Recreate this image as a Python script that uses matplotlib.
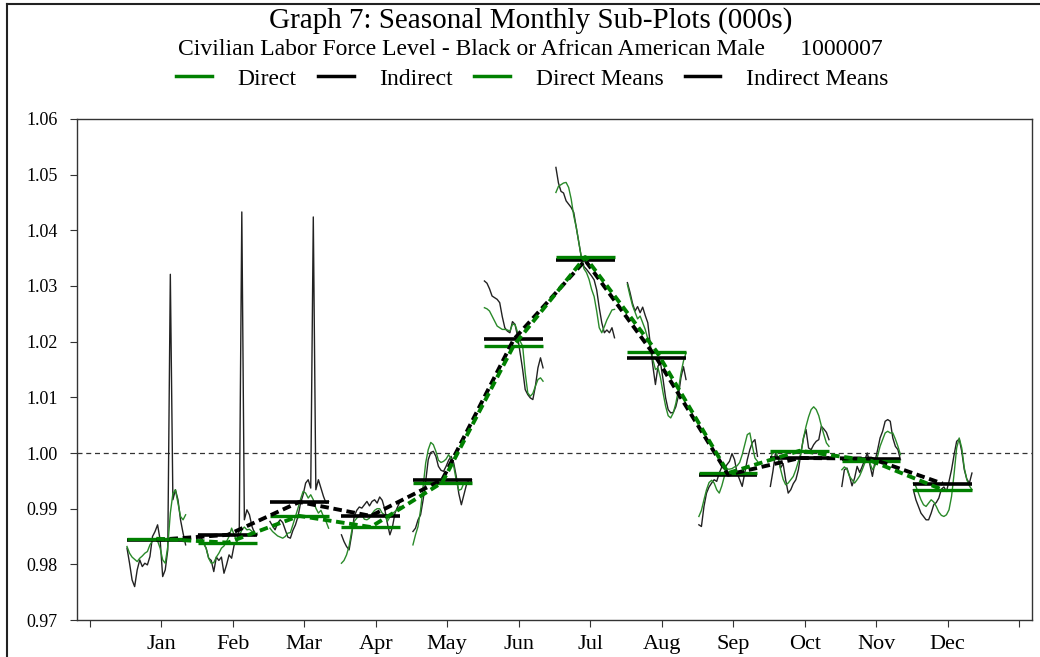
import numpy as np
import matplotlib
matplotlib.use("Agg")
import matplotlib.pyplot as plt
from matplotlib.lines import Line2D

plt.rcParams['font.family'] = ['Liberation Serif', 'DejaVu Serif']

months = ['Jan', 'Feb', 'Mar', 'Apr', 'May', 'Jun', 'Jul', 'Aug', 'Sep', 'Oct', 'Nov', 'Dec']

# seasonal factors per month, direct = green, indirect = black
direct = {
    'Jan': [0.9832, 0.9820, 0.9813, 0.9809, 0.9805, 0.9811, 0.9815, 0.9820, 0.9823, 0.9835, 0.9842, 0.9844,
            0.9842, 0.9829, 0.9808, 0.9802, 0.9832, 0.9892, 0.9927, 0.9934, 0.9910, 0.9886, 0.9880, 0.9889],
    'Feb': [0.9850, 0.9844, 0.9838, 0.9829, 0.9811, 0.9802, 0.9803, 0.9813, 0.9820, 0.9829, 0.9833, 0.9841,
            0.9850, 0.9865, 0.9853, 0.9841, 0.9850, 0.9862, 0.9867, 0.9862, 0.9863, 0.9859, 0.9851, 0.9856],
    'Mar': [0.9865, 0.9859, 0.9855, 0.9851, 0.9849, 0.9847, 0.9850, 0.9856, 0.9857, 0.9871, 0.9886, 0.9901,
            0.9917, 0.9931, 0.9928, 0.9919, 0.9925, 0.9916, 0.9901, 0.9892, 0.9897, 0.9886, 0.9877, 0.9865],
    'Apr': [0.9802, 0.9807, 0.9817, 0.9833, 0.9859, 0.9877, 0.9883, 0.9887, 0.9889, 0.9881, 0.9880, 0.9883,
            0.9891, 0.9897, 0.9900, 0.9900, 0.9892, 0.9889, 0.9877, 0.9885, 0.9891, 0.9895, 0.9899, 0.9904],
    'May': [0.9835, 0.9853, 0.9868, 0.9898, 0.9940, 0.9982, 1.0006, 1.0019, 1.0015, 1.0003, 0.9987, 0.9983,
            0.9985, 0.9989, 0.9997, 0.9989, 0.9976, 0.9951, 0.9933, 0.9935, 0.9946, 0.9947, 0.9946, 0.9949],
    'Jun': [1.0261, 1.0259, 1.0255, 1.0246, 1.0237, 1.0228, 1.0225, 1.0222, 1.0222, 1.0221, 1.0219, 1.0231,
            1.0231, 1.0217, 1.0201, 1.0192, 1.0144, 1.0108, 1.0102, 1.0107, 1.0120, 1.0132, 1.0135, 1.0129],
    'Jul': [1.0468, 1.0479, 1.0482, 1.0485, 1.0486, 1.0477, 1.0456, 1.0426, 1.0405, 1.0378, 1.0351, 1.0331,
            1.0324, 1.0312, 1.0294, 1.0281, 1.0255, 1.0225, 1.0216, 1.0227, 1.0239, 1.0248, 1.0257, 1.0258],
    'Aug': [1.0303, 1.0283, 1.0265, 1.0253, 1.0241, 1.0246, 1.0234, 1.0222, 1.0205, 1.0189, 1.0168, 1.0150,
            1.0153, 1.0135, 1.0108, 1.0084, 1.0067, 1.0063, 1.0072, 1.0089, 1.0113, 1.0143, 1.0165, 1.0180],
    'Sep': [0.9886, 0.9897, 0.9916, 0.9934, 0.9947, 0.9951, 0.9946, 0.9934, 0.9928, 0.9941, 0.9958, 0.9971,
            0.9971, 0.9972, 0.9975, 0.9977, 0.9983, 0.9997, 1.0015, 1.0033, 1.0036, 1.0012, 0.9991, 0.9985],
    'Oct': [0.9988, 1.0003, 1.0003, 0.9993, 0.9971, 0.9953, 0.9943, 0.9946, 0.9952, 0.9958, 0.9970, 0.9985,
            1.0000, 1.0027, 1.0048, 1.0065, 1.0078, 1.0083, 1.0078, 1.0067, 1.0049, 1.0033, 1.0018, 1.0012],
    'Nov': [0.9970, 0.9975, 0.9971, 0.9958, 0.9952, 0.9946, 0.9952, 0.9959, 0.9970, 0.9982, 0.9988, 0.9982,
            0.9970, 0.9977, 0.9994, 1.0012, 1.0024, 1.0036, 1.0039, 1.0036, 1.0036, 1.0025, 1.0012, 0.9997],
    'Dec': [0.9946, 0.9940, 0.9928, 0.9916, 0.9907, 0.9904, 0.9910, 0.9916, 0.9912, 0.9904, 0.9894, 0.9888,
            0.9886, 0.9889, 0.9898, 0.9922, 0.9963, 1.0009, 1.0027, 1.0009, 0.9973, 0.9952, 0.9941, 0.9934],
}

indirect = {
    'Jan': [0.9829, 0.9802, 0.9772, 0.9760, 0.9790, 0.9808, 0.9796, 0.9802, 0.9799, 0.9814, 0.9850, 0.9859,
            0.9871, 0.9844, 0.9778, 0.9790, 0.9826, 1.0321, 0.9916, 0.9934, 0.9916, 0.9880, 0.9856, 0.9835],
    'Feb': [0.9853, 0.9850, 0.9838, 0.9829, 0.9811, 0.9807, 0.9787, 0.9813, 0.9807, 0.9813, 0.9784, 0.9799,
            0.9817, 0.9811, 0.9835, 0.9839, 0.9862, 1.0433, 0.9880, 0.9898, 0.9889, 0.9868, 0.9856, 0.9853],
    'Mar': [0.9877, 0.9869, 0.9862, 0.9874, 0.9880, 0.9875, 0.9862, 0.9849, 0.9847, 0.9861, 0.9871, 0.9886,
            0.9910, 0.9925, 0.9946, 0.9952, 0.9937, 1.0424, 0.9934, 0.9952, 0.9937, 0.9922, 0.9910, 0.9913],
    'Apr': [0.9853, 0.9841, 0.9832, 0.9826, 0.9853, 0.9886, 0.9897, 0.9903, 0.9901, 0.9907, 0.9913, 0.9905,
            0.9913, 0.9916, 0.9910, 0.9921, 0.9915, 0.9899, 0.9874, 0.9853, 0.9867, 0.9892, 0.9903, 0.9913],
    'May': [0.9859, 0.9865, 0.9880, 0.9889, 0.9916, 0.9949, 0.9988, 1.0001, 1.0003, 0.9994, 0.9976, 0.9969,
            0.9967, 0.9976, 0.9987, 0.9994, 0.9982, 0.9958, 0.9927, 0.9907, 0.9925, 0.9943, 0.9952, 0.9952],
    'Jun': [1.0309, 1.0305, 1.0295, 1.0282, 1.0279, 1.0276, 1.0270, 1.0245, 1.0225, 1.0219, 1.0216, 1.0236,
            1.0231, 1.0210, 1.0180, 1.0150, 1.0114, 1.0105, 1.0099, 1.0096, 1.0120, 1.0153, 1.0171, 1.0153],
    'Jul': [1.0513, 1.0485, 1.0470, 1.0467, 1.0453, 1.0447, 1.0441, 1.0432, 1.0405, 1.0378, 1.0351, 1.0335,
            1.0330, 1.0324, 1.0318, 1.0311, 1.0293, 1.0261, 1.0234, 1.0216, 1.0221, 1.0216, 1.0225, 1.0207],
    'Aug': [1.0306, 1.0289, 1.0269, 1.0255, 1.0263, 1.0252, 1.0262, 1.0247, 1.0234, 1.0195, 1.0156, 1.0123,
            1.0156, 1.0162, 1.0132, 1.0099, 1.0078, 1.0072, 1.0073, 1.0083, 1.0102, 1.0135, 1.0155, 1.0132],
    'Sep': [0.9871, 0.9868, 0.9904, 0.9928, 0.9939, 0.9946, 0.9952, 0.9949, 0.9964, 0.9975, 0.9971, 0.9979,
            0.9985, 0.9999, 0.9988, 0.9964, 0.9952, 0.9940, 0.9964, 0.9988, 1.0006, 1.0019, 1.0024, 0.9994],
    'Oct': [0.9940, 0.9967, 1.0000, 0.9991, 0.9973, 0.9981, 0.9952, 0.9928, 0.9934, 0.9945, 0.9952, 0.9970,
            1.0000, 1.0027, 1.0042, 1.0009, 1.0006, 1.0015, 1.0021, 1.0024, 1.0048, 1.0043, 1.0037, 1.0024],
    'Nov': [0.9940, 0.9970, 0.9973, 0.9959, 0.9941, 0.9955, 0.9976, 0.9965, 0.9976, 0.9988, 1.0000, 0.9979,
            0.9958, 0.9985, 1.0005, 1.0027, 1.0039, 1.0057, 1.0060, 1.0057, 1.0027, 1.0012, 1.0006, 0.9988],
    'Dec': [0.9934, 0.9916, 0.9904, 0.9892, 0.9886, 0.9880, 0.9880, 0.9892, 0.9907, 0.9911, 0.9919, 0.9935,
            0.9939, 0.9931, 0.9949, 0.9970, 0.9997, 1.0021, 1.0025, 1.0003, 0.9970, 0.9953, 0.9946, 0.9964],
}

direct_means = [0.9846, 0.9839, 0.9887, 0.9867, 0.9947, 1.0193, 1.0352, 1.0182, 0.9964, 1.0004, 0.9986, 0.9934]
indirect_means = [0.9844, 0.9853, 0.9912, 0.9887, 0.9952, 1.0204, 1.0346, 1.0170, 0.9961, 0.9991, 0.9990, 0.9945]

green = '#008000'

fig = plt.figure(figsize=(10.4, 6.57), dpi=100)
ax = fig.add_axes([0.074, 0.0563, 0.9183, 0.7626])

lo, hi = -0.48, 0.34
centers = []
for i, m in enumerate(months):
    pos = i + 1
    xd = np.linspace(pos + lo, pos + hi, len(direct[m]))
    xi = np.linspace(pos + lo, pos + hi, len(indirect[m]))
    ax.plot(xi, indirect[m], color='#222222', lw=1.0, zorder=2)
    ax.plot(xd, direct[m], color='#2a8a2a', lw=1.0, zorder=2)
    ax.hlines(indirect_means[i], pos + lo, pos + hi, color='black', lw=2.6, zorder=3)
    ax.hlines(direct_means[i], pos + lo, pos + hi, color=green, lw=2.4, zorder=3)
    centers.append(pos + (lo + hi) / 2)

ax.plot(centers, indirect_means, color='black', lw=2.8, dashes=(2.2, 1.2), zorder=4)
ax.plot(centers, direct_means, color=green, lw=2.8, dashes=(2.2, 1.2), zorder=4)

ax.axhline(1.0, color='#333333', lw=0.9, ls=(0, (4, 3)), zorder=1)

ax.set_xlim(-0.18, 13.18)
ax.set_ylim(0.97, 1.06)
yt = np.arange(0.97, 1.0601, 0.01)
ax.set_yticks(yt)
ax.set_yticklabels([f'{v:.2f}' for v in yt], fontsize=13)
ax.set_xticks(range(0, 14))
ax.set_xticklabels([''] + months + [''], fontsize=16)
ax.tick_params(axis='both', direction='out', length=5, width=0.8, color='#333333')
ax.tick_params(axis='x', pad=6)
ax.tick_params(axis='y', pad=9)
for s in ax.spines.values():
    s.set_color('#333333')
    s.set_linewidth(1.0)

fig.text(0.51, 0.969, 'Graph 7: Seasonal Monthly Sub-Plots (000s)', ha='center', va='center', fontsize=21)
fig.text(0.51, 0.925, 'Civilian Labor Force Level - Black or African American Male      1000007',
         ha='center', va='center', fontsize=17)

handles = [Line2D([], [], color=green, lw=2.5),
           Line2D([], [], color='black', lw=2.5),
           Line2D([], [], color=green, lw=2.5),
           Line2D([], [], color='black', lw=2.5)]
fig.legend(handles, ['Direct', 'Indirect', 'Direct Means', 'Indirect Means'], loc='center',
           bbox_to_anchor=(0.512, 0.880), ncol=4, frameon=False, fontsize=17,
           handlelength=1.5, columnspacing=0.9, handletextpad=1.1)

# outer frame (top and left edges visible)
fig.add_artist(Line2D([7 / 1040, 1.0], [1 - 4 / 657, 1 - 4 / 657], transform=fig.transFigure, color='#222222', lw=1.5))
fig.add_artist(Line2D([7 / 1040, 7 / 1040], [0, 1 - 4 / 657], transform=fig.transFigure, color='#222222', lw=1.5))

fig.savefig('out.png', dpi=100)
